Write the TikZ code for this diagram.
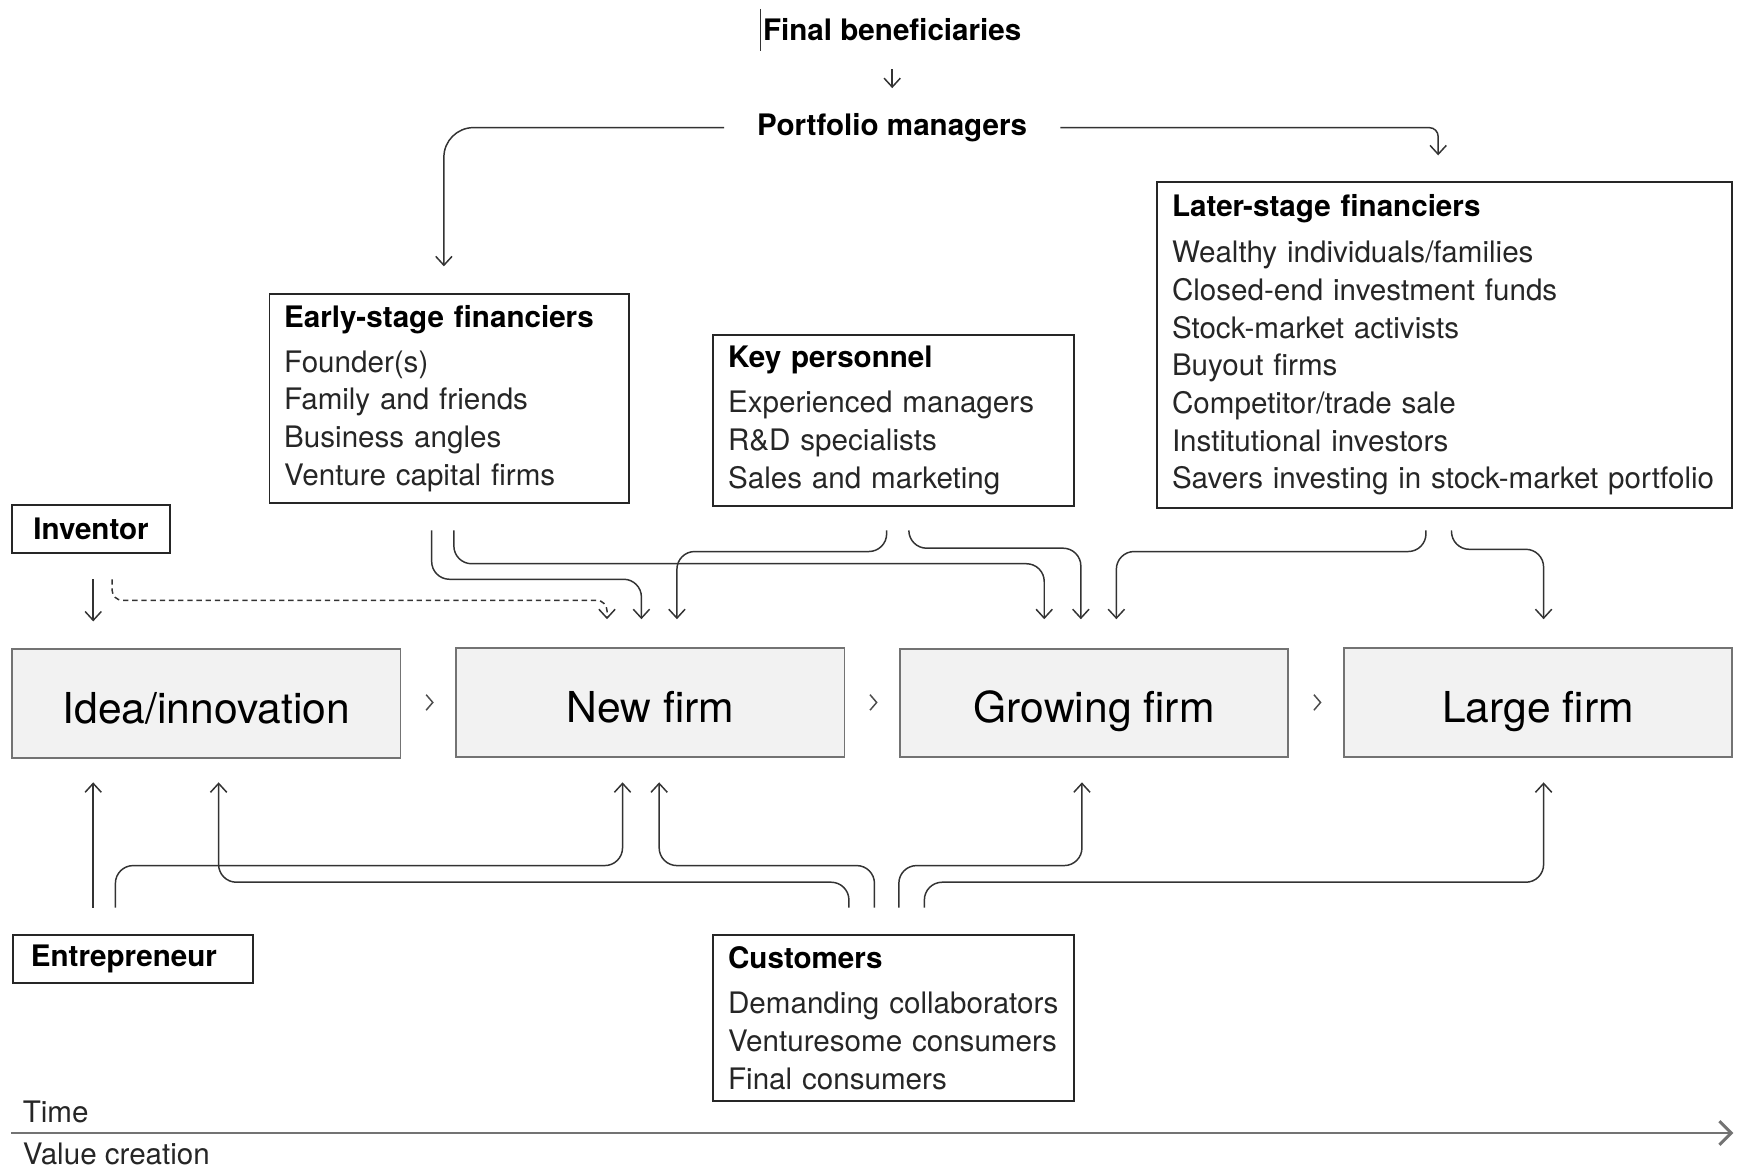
\documentclass[tikz,border=0pt]{standalone}
\usepackage{fontspec}
\setmainfont{TeX Gyre Heros}
\usetikzlibrary{arrows.meta}

\tikzset{
  link/.style={draw=black!80, line width=0.5pt, rounded corners=6pt,
    -{Straight Barb[length=3pt,width=5.5pt]}},
  stage/.style={draw=black!55, fill=black!5, line width=0.6pt,
    minimum width=131.25pt, minimum height=36.75pt,
    text height=13.4pt, text depth=0pt,
    font=\fontsize{14.4}{17}\selectfont},
  listbox/.style={draw=black!85, line width=0.6pt, anchor=north west,
    align=left, inner xsep=5pt, inner ysep=3.8pt, text=black!85,
    font=\fontsize{10}{12.75}\selectfont},
  who/.style={draw=black!85, line width=0.6pt, minimum height=16.2pt,
    font=\fontsize{10}{12}\selectfont\bfseries},
  head/.style={font=\fontsize{10}{12}\selectfont\bfseries}
}

\begin{document}
\begin{tikzpicture}[x=0.375pt,y=-0.375pt]
\useasboundingbox (0,0) rectangle (1568,1053);

% top of the chain
\draw[black!80, line width=0.4pt] (685,8) -- (685,46);
\node[head] (FB) at (804,27) {Final beneficiaries};
\node[head, inner xsep=11pt] (PM) at (804,115) {Portfolio managers};
\draw[link, shorten <=6pt, shorten >=5pt] (FB) -- (PM);

\coordinate (T1) at (400,240);
\coordinate (T2) at (1296,140);
\draw[link, rounded corners=10pt] (PM.west) -| (T1);
\draw[link, rounded corners=3pt] (PM.east) -| (T2);

% financiers, staff, customers
\node[listbox, text width=111.5pt] (early) at (242,264)
  {\textcolor{black}{\textbf{Early-stage financiers}}\\[2.5pt]Founder(s)\\Family and friends\\Business angles\\Venture capital firms};
\node[listbox, text width=111.9pt] (key) at (642,301)
  {\textcolor{black}{\textbf{Key personnel}}\\[2.5pt]Experienced managers\\R\&D specialists\\Sales and marketing};
\node[listbox, text width=184.25pt, inner ysep=4.3pt] (later) at (1042,163)
  {\textcolor{black}{\textbf{Later-stage financiers}}\\[2.8pt]Wealthy individuals/families\\Closed-end investment funds\\Stock-market activists\\Buyout firms\\Competitor/trade sale\\Institutional investors\\Savers investing in stock-market portfolio};
\node[listbox, text width=111.9pt] (cust) at (642,842)
  {\textcolor{black}{\textbf{Customers}}\\[2.5pt]Demanding collaborators\\Venturesome consumers\\Final consumers};

\node[who, minimum width=53.25pt] (inv) at (82,476.5) {Inventor};
\node[who, anchor=west, text width=69pt, inner xsep=6pt, align=left] (ent) at (11,864) {Entrepreneur};

% stages
\node[stage] (idea) at (186,634) {Idea/innovation};
\node[stage] (new) at (586,633) {New firm};
\node[stage] (grow) at (986,633.5) {Growing firm};
\node[stage] (large) at (1386,633) {Large firm};

\draw[black!70, line width=0.5pt] (384,626) -- (390,633) -- (384,640);
\draw[black!70, line width=0.5pt] (784,626) -- (790,633) -- (784,640);
\draw[black!70, line width=0.5pt] (1184,626) -- (1190,633) -- (1184,640);

% arrows from above
\coordinate (e1) at (389,478);
\coordinate (e2) at (409,478);
\coordinate (k1) at (799,478);
\coordinate (k2) at (819,478);
\coordinate (l1) at (1285,478);
\coordinate (l2) at (1308,478);
\coordinate (v1) at (84,522);
\coordinate (v2) at (101,522);
\coordinate (v0) at (84,560);
\coordinate (n1) at (547,558);
\coordinate (n2) at (578,558);
\coordinate (n3) at (610,558);
\coordinate (g1) at (941,558);
\coordinate (g2) at (974,558);
\coordinate (g3) at (1006,558);
\coordinate (f1) at (1391,558);

\draw[link] (e1) -- ++(0,44) -| (n2);
\draw[link] (e2) -- ++(0,30) -| (g1);
\draw[link] (k1) -- ++(0,19) -| (n3);
\draw[link] (k2) -- ++(0,16) -| (g2);
\draw[link] (l1) -- ++(0,19) -| (g3);
\draw[link] (l2) -- ++(0,17) -| (f1);
\draw[link] (v1) -- (v0);
\draw[link, rounded corners=3.5pt, dash pattern=on 1.8pt off 1.3pt] (v2) -- ++(0,19) -| (n1);

% arrows from below
\coordinate (p1) at (84,818);
\coordinate (p2) at (104,818);
\coordinate (c1) at (765,818);
\coordinate (c2) at (788,818);
\coordinate (c3) at (810,818);
\coordinate (c4) at (833,818);
\coordinate (ia1) at (84,705);
\coordinate (ia2) at (197,705);
\coordinate (nf1) at (561,705);
\coordinate (nf2) at (594,705);
\coordinate (gf1) at (975,705);
\coordinate (lf1) at (1391,705);

\draw[link] (p1) -- (ia1);
\draw[link] (p2) -- ++(0,-38) -| (nf1);
\draw[link] (c1) -- ++(0,-23) -| (ia2);
\draw[link] (c2) -- ++(0,-38) -| (nf2);
\draw[link] (c3) -- ++(0,-38) -| (gf1);
\draw[link] (c4) -- ++(0,-23) -| (lf1);

% time axis
\coordinate (t0) at (10,1021);
\coordinate (t1) at (1562,1021);
\draw[black!55, line width=1pt, -{Straight Barb[length=4pt,width=8pt]}] (t0) -- (t1);
\node[anchor=west, inner sep=0pt, text=black!85, font=\fontsize{10}{12}\selectfont] (time) at (20,1002) {Time};
\node[anchor=west, inner sep=0pt, text=black!85, font=\fontsize{10}{12}\selectfont] (value) at (20,1040) {Value creation};
\end{tikzpicture}
\end{document}
